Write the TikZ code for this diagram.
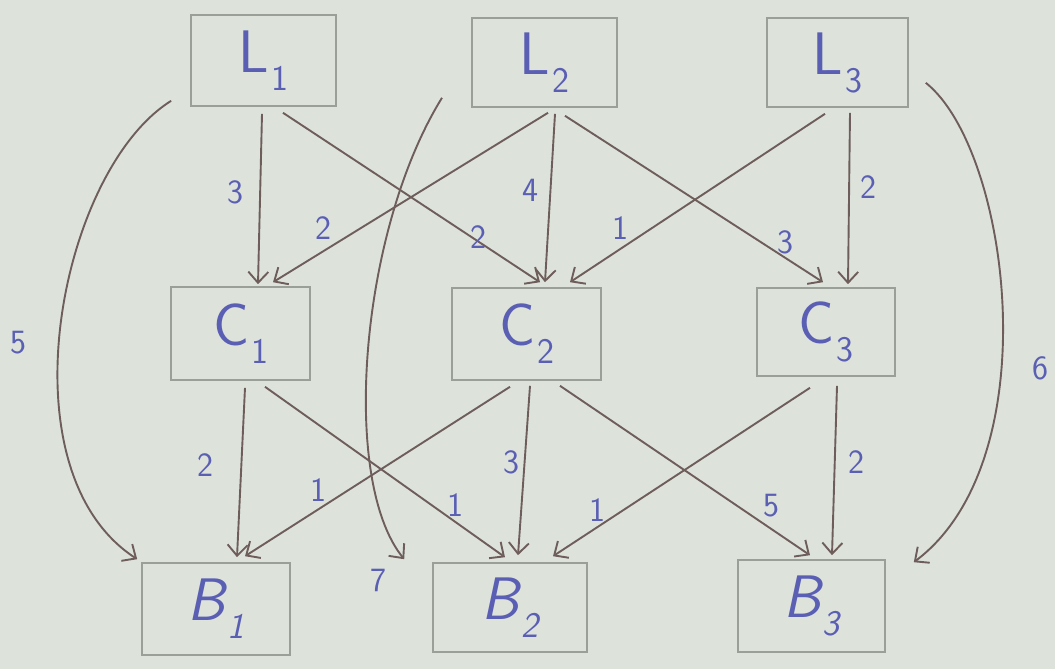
\documentclass[tikz,border=0pt]{standalone}
\usetikzlibrary{arrows.meta}
\definecolor{paper}{HTML}{DDE3DB}
\definecolor{boxc}{HTML}{9A9F98}
\definecolor{linec}{HTML}{6E5D5A}
\definecolor{ink}{HTML}{5B5FB4}
\newcommand\subl[2]{#1\kern2pt\raisebox{-0.3em}{\fontsize{36}{36}\selectfont #2}}
\begin{document}
\begin{tikzpicture}[x=1pt,y=-1pt,
  box/.style={draw=boxc,line width=1.6pt,inner sep=0pt,text=ink,
    font=\sffamily\fontsize{60}{60}\selectfont},
  arr/.style={draw=linec,line width=1.9pt,-{Straight Barb[length=11pt,width=20pt,line width=1.9pt]}},
  wt/.style={text=ink,inner sep=0pt,font=\sffamily\fontsize{34}{34}\selectfont}]
\fill[paper] (0,0) rectangle (1055,669);
\useasboundingbox (0,0) rectangle (1055,669);
% boxes
\node[box,minimum width=145pt,minimum height=91pt] (L1) at (263.5,60.5) {\subl{L}{1}};
\node[box,minimum width=145pt,minimum height=89pt] (L2) at (544.5,62.5) {\subl{L}{2}};
\node[box,minimum width=141pt,minimum height=89pt] (L3) at (837.5,62.5) {\subl{L}{3}};
\node[box,minimum width=139pt,minimum height=93pt] (C1) at (240.5,333.5) {\subl{C}{1}};
\node[box,minimum width=149pt,minimum height=92pt] (C2) at (526.5,334) {\subl{C}{2}};
\node[box,minimum width=138pt,minimum height=88pt] (C3) at (826,332) {\subl{C}{3}};
\node[box,minimum width=148pt,minimum height=92pt] (B1) at (216,609) {\subl{\itshape B}{1}};
\node[box,minimum width=154pt,minimum height=89pt] (B2) at (510,607.5) {\subl{\itshape B}{2}};
\node[box,minimum width=147pt,minimum height=92pt] (B3) at (811.5,606) {\subl{\itshape B}{3}};
% L -> C
\draw[arr] ([shift={(-1.5,7)}]L1.south) -- ([shift={(17.5,-2)}]C1.north);
\draw[arr] ([shift={(19.5,6)}]L1.south) -- ([shift={(13.5,-5)}]C2.north);
\draw[arr] ([shift={(3.5,5)}]L2.south) -- ([shift={(32.5,-4)}]C1.north);
\draw[arr] ([shift={(10.5,6)}]L2.south) -- ([shift={(18.5,-5)}]C2.north);
\draw[arr] ([shift={(20.5,8)}]L2.south) -- ([shift={(-3,-5)}]C3.north);
\draw[arr] ([shift={(-12.5,6)}]L3.south) -- ([shift={(43.5,-5)}]C2.north);
\draw[arr] ([shift={(12.5,5)}]L3.south) -- ([shift={(22,-3)}]C3.north);
% C -> B
\draw[arr] ([shift={(4.5,7)}]C1.south) -- ([shift={(21,-5)}]B1.north);
\draw[arr] ([shift={(24.5,6)}]C1.south) -- ([shift={(-5,-5)}]B2.north);
\draw[arr] ([shift={(-16.5,6)}]C2.south) -- ([shift={(29,-6)}]B1.north);
\draw[arr] ([shift={(3.5,5)}]C2.south) -- ([shift={(8,-7)}]B2.north);
\draw[arr] ([shift={(33.5,5)}]C2.south) -- ([shift={(-1.5,-4)}]B3.north);
\draw[arr] ([shift={(-16,11)}]C3.south) -- ([shift={(43,-6)}]B2.north);
\draw[arr] ([shift={(11,9)}]C3.south) -- ([shift={(20.5,-4)}]B3.north);
% L -> B curves
\draw[arr] ([shift={(-19,-6)}]L1.south west) .. controls (60,170) and (0,470) .. ([shift={(-4,-3)}]B1.north west);
\draw[arr] ([shift={(-102.5,-10)}]L2.south) .. controls (360,230) and (340,480) .. ([shift={(-28,-3)}]B2.north west);
\draw[arr] ([shift={(17,-25)}]L3.south east) .. controls (1010,150) and (1050,460) .. ([shift={(28,3)}]B3.north east);
% weights
\node[wt] (w1) at (235,192) {3};
\node[wt] (w2) at (323,228) {2};
\node[wt] (w3) at (478,237) {2};
\node[wt] (w4) at (530,190) {4};
\node[wt] (w5) at (620,228) {1};
\node[wt] (w6) at (785,242) {3};
\node[wt] (w7) at (868,187) {2};
\node[wt] (w8) at (18,343) {5};
\node[wt] (w9) at (378,580) {7};
\node[wt] (w10) at (1040,368) {6};
\node[wt] (w11) at (205,465) {2};
\node[wt] (w12) at (318,490) {1};
\node[wt] (w13) at (455,505) {1};
\node[wt] (w14) at (511,462) {3};
\node[wt] (w15) at (597,510) {1};
\node[wt] (w16) at (771,506) {5};
\node[wt] (w17) at (856,462) {2};
\end{tikzpicture}
\end{document}
